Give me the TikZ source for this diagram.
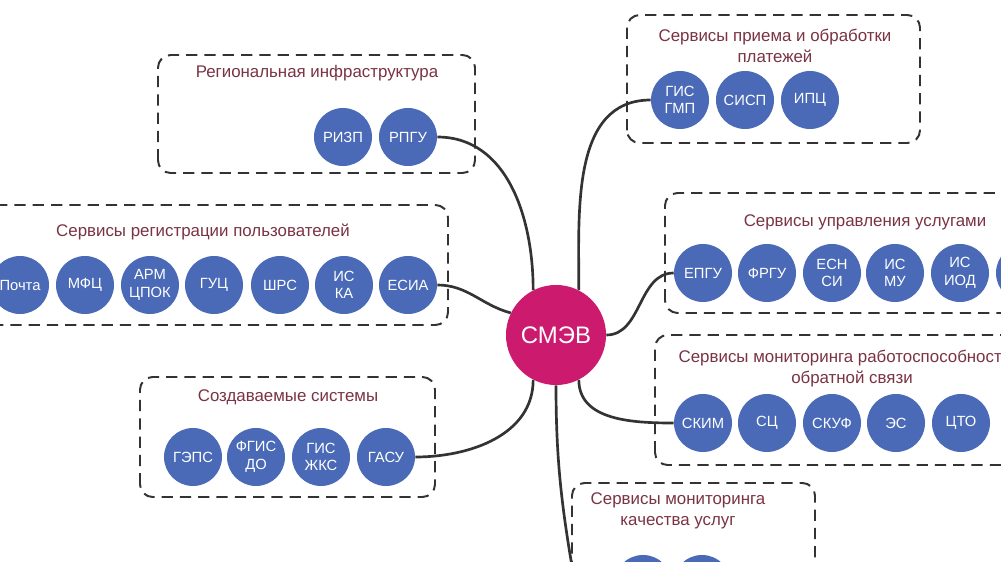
\documentclass[tikz,border=0pt]{standalone}
\usepackage{fontspec}
\setmainfont{Liberation Sans}
\usetikzlibrary{positioning,calc}
\definecolor{smevpink}{HTML}{CC1B6E}
\definecolor{svcblue}{HTML}{4A6AB8}
\definecolor{titlered}{HTML}{7A3344}
\definecolor{wiregray}{HTML}{333333}
\tikzset{
  groupbox/.style={draw=wiregray, line width=1.4pt, dash pattern=on 8pt off 5pt,
                   rounded corners=9pt},
  grouptitle/.style={text=titlered, font=\fontsize{12}{15}\selectfont, align=center},
  svc/.style={circle, fill=svcblue, minimum size=1.45cm, inner sep=0pt, align=center,
              text=white, font=\fontsize{10.5}{12.5}\selectfont},
  hub/.style={circle, fill=smevpink, minimum size=2.5cm, inner sep=0pt,
              text=white, font=\fontsize{17}{20}\selectfont},
  link/.style={draw=wiregray, line width=1.9pt}}

\begin{document}
\begin{tikzpicture}[x=0.025cm, y=0.025cm]
    \path[use as bounding box, fill=white] (0,0) rectangle (1001,561);
    % dashed groups
    \draw[groupbox] (158,388) rectangle (475,506);
    \draw[groupbox] (-30,236) rectangle (448,356);
    \draw[groupbox] (140,64) rectangle (435,184);
    \draw[groupbox] (627,418) rectangle (920,546);
    \draw[groupbox] (665,248) rectangle (1060,368);
    \draw[groupbox] (655,96) rectangle (1060,226);
    \draw[groupbox] (572,-60) rectangle (815,78);
    \node[grouptitle] (tregion) at (317,488) {Региональная инфраструктура};
    \node[grouptitle] (tusers) at (203,329) {Сервисы регистрации пользователей};
    \node[grouptitle] (tnew) at (288,164) {Создаваемые системы};
    \node[grouptitle] (tpay) at (775,515) {Сервисы приема и обработки\\платежей};
    \node[grouptitle] (tmanage) at (865,339) {Сервисы управления услугами};
    \node[grouptitle] (tmon) at (852,192) {Сервисы мониторинга работоспособности и\\обратной связи};
    \node[grouptitle] (tqual) at (678,50) {Сервисы мониторинга\\качества услуг};
    % hub and services
    \node[hub] (smev) at (556,226) {СМЭВ};
    \node[svc] (rizp) at (343,424) {РИЗП};
    \node[svc] (rpgu) at (408,424) {РПГУ};
    \node[svc] (pochta) at (20,276) {Почта};
    \node[svc] (mfc) at (85,276) {МФЦ};
    \node[svc] (arm) at (150,276) {АРМ\\ЦПОК};
    \node[svc] (guc) at (214,276) {ГУЦ};
    \node[svc] (shrs) at (280,276) {ШРС};
    \node[svc] (iska) at (344,276) {ИС\\КА};
    \node[svc] (esia) at (408,276) {ЕСИА};
    \node[svc] (geps) at (193,104) {ГЭПС};
    \node[svc] (fgisdo) at (256,104) {ФГИС\\ДО};
    \node[svc] (gisjks) at (321,104) {ГИС\\ЖКС};
    \node[svc] (gasu) at (386,104) {ГАСУ};
    \node[svc] (gisgmp) at (680,461) {ГИС\\ГМП};
    \node[svc] (sisp) at (745,461) {СИСП};
    \node[svc] (ipc) at (810,461) {ИПЦ};
    \node[svc] (epgu) at (703,288) {ЕПГУ};
    \node[svc] (frgu) at (767,288) {ФРГУ};
    \node[svc] (esnsi) at (832,288) {ЕСН\\СИ};
    \node[svc] (ismu) at (895,288) {ИС\\МУ};
    \node[svc] (isiod) at (960,288) {ИС\\ИОД};
    \node[svc] (manx) at (1025,288) {};
    \node[svc] (skim) at (703,138) {СКИМ};
    \node[svc] (sc) at (767,138) {СЦ};
    \node[svc] (skuf) at (832,138) {СКУФ};
    \node[svc] (es) at (896,138) {ЭС};
    \node[svc] (cto) at (961,138) {ЦТО};
    \node[svc] (qa) at (643,-23) {};
    \node[svc] (qb) at (702,-23) {};
    \coordinate (qend) at (578,-40);
    % links to the hub
    \draw[link] (rpgu.east) to[out=0,in=90] (smev.117);
    \draw[link] (esia.east) to[out=0,in=165] (smev.154);
    \draw[link] (gisgmp.west) to[out=180,in=90] (smev.63);
    \draw[link] (smev.east) to[out=0,in=180] (epgu.west);
    \draw[link] (smev.-63) to[out=-90,in=180] (skim.west);
    \draw[link] (smev.-117) to[out=-90,in=0] (gasu.east);
    \draw[link] (smev.south) to[out=-90,in=100] (qend);
\end{tikzpicture}
\end{document}
